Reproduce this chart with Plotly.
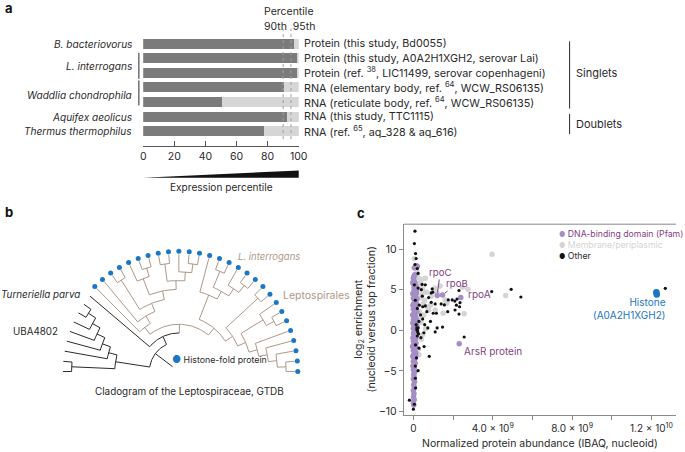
import math
import plotly.graph_objects as go

W, H = 685, 452
FONT = "Inter"
INK = "#2a2a2a"

def pxx(px):
    return px / W

def pxy(py):
    return 1 - py / H

# ---------------- panel a data ----------------
bar_rows = [0, 1, 2, 3, 4, 5, 6]
expr_percentile = [96.8, 99.3, 99.4, 90.3, 50.5, 92.4, 77.7]
source_labels = [
    "Protein (this study, Bd0055)",
    "Protein (this study, A0A2H1XGH2, serovar Lai)",
    "Protein (ref. <sup>38</sup>, LIC11499, serovar copenhageni)",
    "RNA (elementary body, ref. <sup>64</sup>, WCW_RS06135)",
    "RNA (reticulate body, ref. <sup>64</sup>, WCW_RS06135)",
    "RNA (this study, TTC1115)",
    "RNA (ref. <sup>65</sup>, aq_328 & aq_616)",
]
species_names = ["B. bacteriovorus", "L. interrogans", "Waddlia chondrophila",
                 "Aquifex aeolicus", "Thermus thermophilus"]
species_rows = [0, 1.5, 3.5, 5, 6]
percentile_ticks = [0, 20, 40, 60, 80, 100]
percentile_marks = [90, 95]

# ---------------- panel b data (cladogram topology) ----------------
UBA = (("u7", "u6"), ("u5", ("u4", ("u3", ("u2", ("u1", "u0"))))))
LEP_A = ("L0", ("L1", (("L2", "L3"), (("L4", ("L5", "L6")),
                                      (("L7", "L8"), ("L9", ("L10", "L11")))))))
LEP_B = (("L12", (("L13", "L14"), ("L15", ("L16", "L17")))),
         (("L18", "L19"), (("L20", ("L21", "L22")),
                           ("L23", ("L24", ("L25", ("L26", "L27")))))))
LEPTO = (LEP_A, LEP_B)
TREE = (UBA, ("Turneriella", LEPTO))

# ---------------- panel c data (x in units of 1e9 IBAQ, y log2) ----------------
dna_binding = [
    (0.15, 7.95), (0.05, 7.7), (0.02, 6.6), (0.08, 5.9), (0.0, 5.7), (0.12, 5.45),
    (0.03, 5.2), (0.09, 4.95), (0.01, 4.7), (0.14, 4.55), (0.05, 4.35), (0.1, 4.1),
    (0.0, 3.95), (0.07, 3.7), (0.13, 3.5), (0.02, 3.3), (0.09, 3.05), (0.04, 2.85),
    (0.0, 2.6), (0.11, 2.45), (0.06, 2.2), (0.02, 2.0), (0.1, 1.75), (0.04, 1.55),
    (0.0, 1.3), (0.08, 1.1), (0.13, 0.9), (0.03, 0.7), (0.07, 0.45), (0.0, 0.25),
    (0.1, 0.05), (0.05, -0.15), (0.01, -0.4), (0.09, -0.6), (0.04, -0.85), (0.12, -1.05),
    (0.0, -1.3), (0.06, -1.5), (0.02, -1.75), (0.1, -1.95), (0.05, -2.2), (0.0, -2.45),
    (0.08, -2.65), (0.03, -2.9), (0.11, -3.1), (0.01, -3.35), (0.06, -3.6), (0.0, -3.85),
    (0.09, -4.05), (0.03, -4.3), (0.05, -4.6), (0.0, -4.85), (0.07, -5.1), (0.02, -5.4),
    (0.04, -5.75), (0.0, -6.0), (0.06, -6.3), (0.02, -6.7), (0.05, -7.0), (0.0, -7.4),
    (0.03, -7.8), (0.01, -8.2), (0.04, -8.55), (0.0, -8.9), (0.02, -9.2),
    (0.16, 4.8), (0.18, 3.9), (0.15, 3.2), (0.17, 2.3), (0.14, 1.4), (0.16, 0.6),
    (0.15, -0.3), (0.13, -1.6), (0.12, -2.8), (-0.03, 4.5), (-0.02, 3.1), (-0.04, 1.9),
    (-0.03, 0.9), (-0.02, -0.9), (-0.04, -2.0), (-0.03, -3.2), (-0.02, -4.4), (-0.03, 5.9),
    (0.03, 6.1), (0.0, 6.4), (0.07, 6.85), (0.2, 7.9),
    (1.2, 4.28), (1.47, 4.35), (2.39, 4.03), (2.31, -1.64),
]
membrane = [
    (3.97, 9.37), (4.65, 4.28), (2.56, 2.03), (2.48, 5.3), (1.1, 5.17), (1.35, 5.45),
    (2.75, 5.05), (1.6, 3.74), (1.68, 3.34), (1.5, 2.1), (0.6, 6.4), (0.4, 6.3),
    (0.46, 5.1), (0.67, 4.7), (0.77, 2.5), (0.52, 1.9), (0.47, -0.5), (0.4, -1.1),
    (0.28, 1.5), (0.14, 5.0), (0.2, 3.9), (0.08, 6.8), (0.1, 7.6), (0.05, 8.8),
    (0.1, 3.1), (0.3, 2.3), (0.28, 4.3), (0.57, 3.7), (0.86, 3.1), (1.1, 2.5),
    (0.24, 5.6), (0.36, 6.0), (0.14, 1.1), (0.2, 0.5), (0.08, -1.8), (0.1, -2.6),
    (0.05, -3.4), (0.28, -3.0), (0.05, 1.9), (0.05, -0.1), (0.14, 2.7), (1.2, 4.6),
    (0.33, 4.0), (0.5, 3.3), (0.7, 2.9), (0.22, 6.5), (0.18, 7.2), (0.38, 1.0),
    (0.62, 0.2), (0.25, -2.3), (0.3, 5.2), (0.12, -0.8), (0.45, 4.5), (0.9, 4.2),
]
other = [
    (0.08, 12.2), (0.05, 10.67), (0.11, 9.45), (0.14, 8.84), (0.08, 8.1), (0.2, 7.6),
    (0.24, 7.0), (0.05, 5.6), (0.44, 5.65), (0.24, 5.2), (0.4, 5.0), (0.6, 5.6),
    (0.95, 5.1), (0.98, 4.7), (0.77, 4.03), (1.1, 3.25), (0.9, 3.45), (1.4, 3.25),
    (1.56, 3.13), (1.76, 3.74), (1.96, 3.74), (2.09, 3.6), (2.2, 3.85), (2.35, 3.4),
    (2.17, 3.1), (2.3, 4.9), (1.0, 2.1), (1.16, 2.1), (1.73, 2.3), (2.1, 2.5),
    (2.3, 2.0), (0.86, 1.1), (1.2, 0.3), (1.47, 0.4), (1.1, -0.2), (0.53, -0.3),
    (2.56, -0.82), (0.38, -0.9), (0.54, -2.0), (0.8, -3.2), (0.24, -4.97), (0.16, -3.4),
    (-0.2, -8.6), (0.0, -9.7), (0.05, -9.1), (0.11, -7.1), (0.1, -5.9), (0.1, -4.4),
    (0.28, -2.2), (0.11, -1.8), (0.2, 0.0), (0.24, 0.3), (0.14, 0.7), (0.28, 1.1),
    (0.47, 1.4), (0.36, 1.9), (0.2, 2.7), (0.3, 3.1), (0.1, 3.7), (0.47, 2.9),
    (0.68, 2.3), (0.57, 0.7), (0.73, 0.3), (0.6, 3.0), (0.9, 4.6), (0.45, 4.2),
    (12.7, 5.17), (3.95, 4.77), (4.93, 5.05), (5.42, 4.1), (2.33, 2.9),
    (0.18, 0.07), (0.22, -0.2), (0.26, -0.45), (0.2, -0.7), (0.17, 0.3),
]
histone = [(12.27, 4.4), (12.25, 4.7)]
abundance_ticks = [0, 4, 8, 12]
abundance_minor = [2, 6, 10]
abundance_ticktext = ["0", "4.0 × 10<sup>9</sup>", "8.0 × 10<sup>9</sup>",
                      "1.2 × 10<sup>10</sup>"]
enrich_ticks = [-10, -5, 0, 5, 10]

# ---------------- colours ----------------
BAR_DARK = "#7b7b7b"
BAR_LIGHT = "#d6d6d6"
TAN = "#ad9988"
BLUE = "#1b76c4"
PURPLE = "#a58dc5"
PURPLE_TXT = "#7f3f82"
GRAY = "#d4d4d4"
FRAME = "#8a8a8a"

fig = go.Figure()
shapes = []
annotations = []

def ann(text, x, y, xref="paper", yref="paper", xa="center", size=10.5, color=INK, **kw):
    d = dict(text=text, x=x, y=y, xref=xref, yref=yref, xanchor=xa, yanchor="middle",
             showarrow=False, font=dict(size=size, color=color))
    d.update(kw)
    annotations.append(d)

# ================= panel a =================
A_X0, A_X1 = 142.7, 301.0        # pixel positions of 0 and 100
A_Y0, A_Y1 = 35.2, 147.0         # pixel extent of the y domain
A_RANGE = [7.02, -0.6]

fig.add_trace(go.Bar(x=expr_percentile, y=bar_rows, orientation="h", width=0.68,
                     marker=dict(color=BAR_DARK, line=dict(width=0)),
                     xaxis="x", yaxis="y", hoverinfo="skip"))
fig.add_trace(go.Bar(x=[100 - v for v in expr_percentile], y=bar_rows, orientation="h",
                     width=0.68, marker=dict(color=BAR_LIGHT, line=dict(width=0)),
                     xaxis="x", yaxis="y", hoverinfo="skip"))

def row_py(r):
    return A_Y1 - (r - A_RANGE[0]) / (A_RANGE[1] - A_RANGE[0]) * (A_Y1 - A_Y0)

for v in percentile_marks:
    shapes.append(dict(type="line", xref="x", yref="paper", x0=v, x1=v,
                       y0=pxy(140), y1=pxy(29),
                       line=dict(color="#a0a0a0", width=1, dash="dot")))

ann("Percentile", pxx(290.8), pxy(12))
ann("90th&#160;&#160;95th", pxx(291.3), pxy(26.7))

for name, r in zip(species_names, species_rows):
    ann("<i>%s</i>" % name, 0, r, xref="x", yref="y", xa="right", xshift=-9, size=10.1)
for lab, r in zip(source_labels, bar_rows):
    ann(lab, 100, r, xref="x", yref="y", xa="left", xshift=3, size=10.8)

for r0, r1 in [(0.63, 2.41), (2.52, 4.23)]:
    shapes.append(dict(type="line", xref="paper", yref="paper", x0=pxx(138.3), x1=pxx(138.3),
                       y0=pxy(row_py(r0)), y1=pxy(row_py(r1)),
                       line=dict(color=INK, width=1)))
for r0, r1 in [(-0.16, 4.45), (4.82, 6.2)]:
    shapes.append(dict(type="line", xref="paper", yref="paper", x0=pxx(576.7), x1=pxx(576.7),
                       y0=pxy(row_py(r0)), y1=pxy(row_py(r1)),
                       line=dict(color=INK, width=1)))
ann("Singlets", pxx(581.5), pxy(row_py(2.0)), xa="left", size=11)
ann("Doublets", pxx(581.5), pxy(row_py(5.5)), xa="left", size=11)

shapes.append(dict(type="path", xref="x", yref="paper",
                   path="M -1.7,%f L 101.1,%f L 101.1,%f Z" % (pxy(179), pxy(171.5), pxy(179)),
                   fillcolor="#111111", line=dict(width=0)))
ann("Expression percentile", pxx(222), pxy(188), size=10.1)

# ================= panel b =================
R_LEAF, STEP, R_DOT = 118.0, 8.8, 121.0
leaf_order = []

def collect(n):
    if isinstance(n, str):
        leaf_order.append(n)
    else:
        for c in n:
            collect(c)

collect(TREE)
n_leaves = len(leaf_order)
leaf_angle = {nm: 180.0 - 180.0 * i / (n_leaves - 1) for i, nm in enumerate(leaf_order)}

def height(n):
    return 0 if isinstance(n, str) else 1 + max(height(c) for c in n)

def angle(n):
    if isinstance(n, str):
        return leaf_angle[n]
    a = [angle(c) for c in n]
    return (min(a) + max(a)) / 2

def radius(n):
    return R_LEAF - height(n) * STEP

def pol(r, a):
    t = math.radians(a)
    return r * math.cos(t), r * math.sin(t)

seg = {TAN: ([], []), INK: ([], [])}

def add_line(col, pts):
    xs, ys = seg[col]
    for p in pts:
        xs.append(p[0]); ys.append(p[1])
    xs.append(None); ys.append(None)

def draw(n, lep):
    lep = lep or (n is LEPTO)
    if isinstance(n, str):
        return
    rn = radius(n)
    angs = [angle(c) for c in n]
    a0, a1 = min(angs), max(angs)
    k = max(2, int((a1 - a0) / 1.5))
    add_line(TAN if lep else INK, [pol(rn, a0 + (a1 - a0) * i / k) for i in range(k + 1)])
    for c in n:
        clep = lep or (c is LEPTO)
        add_line(TAN if clep else INK, [pol(rn, angle(c)), pol(radius(c), angle(c))])
        draw(c, lep)

draw(TREE, False)
add_line(INK, [pol(radius(TREE), angle(TREE)), pol(radius(TREE) - 22, angle(TREE))])

for col in (INK, TAN):
    fig.add_trace(go.Scatter(x=seg[col][0], y=seg[col][1], mode="lines",
                             line=dict(color=col, width=1), xaxis="x2", yaxis="y2",
                             hoverinfo="skip"))
lep_leaves = [nm for nm in leaf_order if nm.startswith("L")]
dots = [pol(R_DOT, leaf_angle[nm]) for nm in lep_leaves]
fig.add_trace(go.Scatter(x=[d[0] for d in dots], y=[d[1] for d in dots], mode="markers",
                         marker=dict(color=BLUE, size=5), xaxis="x2", yaxis="y2",
                         hoverinfo="skip"))

ann("<i>L. interrogans</i>", 92, 116, "x2", "y2", size=9.5, color=TAN)
ann("Leptospirales", 104, 77, "x2", "y2", xa="left", size=10.5, color=TAN)
ann("<i>Turneriella parva</i>", -99, 78, "x2", "y2", xa="right", size=9.8)
ann("UBA4802", -146, 40, "x2", "y2", size=9.8)
ann("<span style='color:%s;font-size:10px'>●</span> Histone-fold protein" % BLUE,
    -9, 13, "x2", "y2", xa="left", size=8.8)
ann("Cladogram of the Leptospiraceae, GTDB", 11, -20, "x2", "y2", size=9.9)

# ================= panel c =================
E9 = 1e9
fig.add_trace(go.Scatter(x=[p[0] * E9 for p in membrane], y=[p[1] for p in membrane],
                         mode="markers", marker=dict(color=GRAY, size=5.5),
                         xaxis="x3", yaxis="y3", hoverinfo="skip"))
fig.add_trace(go.Scatter(x=[p[0] * E9 for p in dna_binding], y=[p[1] for p in dna_binding],
                         mode="markers", marker=dict(color=PURPLE, size=5.5),
                         xaxis="x3", yaxis="y3", hoverinfo="skip"))
fig.add_trace(go.Scatter(x=[p[0] * E9 for p in other], y=[p[1] for p in other],
                         mode="markers", marker=dict(color="#111111", size=3.2),
                         xaxis="x3", yaxis="y3", hoverinfo="skip"))
fig.add_trace(go.Scatter(x=[p[0] * E9 for p in histone], y=[p[1] for p in histone],
                         mode="markers", marker=dict(color=BLUE, size=6.5),
                         xaxis="x3", yaxis="y3", hoverinfo="skip"))

rpoC, rpoB, rpoA, arsR = dna_binding[-4], dna_binding[-3], dna_binding[-2], dna_binding[-1]
annotations.append(dict(text="rpoC", x=rpoC[0] * E9, y=rpoC[1], xref="x3", yref="y3",
                        showarrow=True, arrowhead=0, arrowwidth=1, arrowcolor=PURPLE_TXT,
                        ax=3, ay=-23, standoff=3, font=dict(size=9.6, color=PURPLE_TXT)))
annotations.append(dict(text="rpoB", x=rpoB[0] * E9, y=rpoB[1], xref="x3", yref="y3",
                        showarrow=True, arrowhead=0, arrowwidth=1, arrowcolor=PURPLE_TXT,
                        ax=14, ay=-11, standoff=3, font=dict(size=9.6, color=PURPLE_TXT)))
ann("rpoA", rpoA[0] * E9, rpoA[1], "x3", "y3", xa="left", xshift=5, yshift=4,
    size=10, color=PURPLE_TXT)
ann("ArsR protein", arsR[0] * E9, arsR[1], "x3", "y3", xa="left", xshift=3, yshift=-7,
    size=10, color=PURPLE_TXT)
ann("Histone<br>(A0A2H1XGH2)", 12.84 * E9, 2.73, "x3", "y3", xa="right", align="right",
    size=10, color=BLUE)

leg = [("DNA-binding domain (Pfam)", PURPLE, PURPLE_TXT, 236),
       ("Membrane/periplasmic", GRAY, GRAY, 246.7),
       ("Other", "#111111", INK, 257.7)]
for txt, dc, tc, py in leg:
    ann("<span style='color:%s;font-size:7px'>●</span> %s" % (dc, txt),
        pxx(563.5), pxy(py), xa="left", size=8.7, color=tc)

shapes.append(dict(type="line", xref="paper", yref="paper", x0=pxx(408), x1=1.0,
                   y0=pxy(225.7), y1=pxy(225.7), line=dict(color=FRAME, width=1)))

ann("log<sub>2</sub> enrichment<br>(nucleoid versus top fraction)", pxx(369), pxy(322),
    textangle=-90)
ann("Normalized protein abundance (IBAQ, nucleoid)", pxx(546.5), pxy(446))

for letter, px, py in [("a", 6.5, 8.5), ("b", 6.5, 213), ("c", 364, 214)]:
    ann("<b>%s</b>" % letter, pxx(px), pxy(py), size=13, color="#111111")

fig.update_layout(
    width=W, height=H, margin=dict(l=0, r=0, t=0, b=0),
    paper_bgcolor="white", plot_bgcolor="white",
    font=dict(family=FONT, size=10.5, color=INK),
    showlegend=False, barmode="stack",
    xaxis=dict(domain=[pxx(A_X0), pxx(A_X1)], range=[0, 100], anchor="y",
               tickvals=percentile_ticks, ticks="inside", ticklen=5, tickcolor="#555",
               showline=True, linecolor="#555", linewidth=1, showgrid=False,
               zeroline=False, tickfont=dict(size=10.5, color=INK)),
    yaxis=dict(domain=[pxy(A_Y1), pxy(A_Y0)], range=A_RANGE, visible=False, anchor="x"),
    xaxis2=dict(domain=[0, pxx(340)], range=[-179, 161], visible=False, anchor="y2"),
    yaxis2=dict(domain=[0, pxy(200)], range=[-78, 174], visible=False, anchor="x2"),
    xaxis3=dict(domain=[pxx(408), 1.0], range=[-0.48e9, 13.24e9], anchor="y3",
                tickvals=[t * E9 for t in abundance_ticks], ticktext=abundance_ticktext,
                ticks="outside", ticklen=4, tickcolor=FRAME, showline=True,
                linecolor=FRAME, linewidth=1, showgrid=False, zeroline=False,
                minor=dict(tickvals=[t * E9 for t in abundance_minor], ticks="outside",
                           ticklen=4, tickcolor=FRAME, showgrid=False),
                tickfont=dict(size=10, color=INK)),
    yaxis3=dict(domain=[pxy(418), pxy(225.7)], range=[-10.45, 13.06], anchor="x3",
                tickvals=enrich_ticks, ticks="outside", ticklen=4, tickcolor=FRAME,
                showline=True, linecolor=FRAME, linewidth=1, showgrid=False,
                zeroline=False, tickfont=dict(size=10.5, color=INK)),
    shapes=shapes, annotations=annotations,
)

fig.write_html("out.html", config={"displayModeBar": False},
               post_script="document.body.style.margin='0px';")
